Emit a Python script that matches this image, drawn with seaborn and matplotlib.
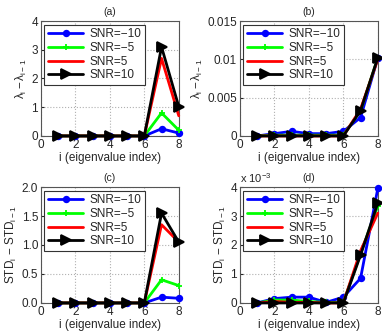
import numpy as np
import pandas as pd
import matplotlib
matplotlib.use("Agg")
import matplotlib.pyplot as plt
import seaborn as sns

idx = [1, 2, 3, 4, 5, 6, 7, 8]
labels = ["SNR=\u221210", "SNR=\u22125", "SNR=5", "SNR=10"]

# (a) eigenvalue differences
a_m10 = [0, 0, 0, 0, 0, 0, 0.25, 0.10]
a_m5 = [0, 0, 0, 0, 0, 0, 0.80, 0.20]
a_p5 = [0, 0, 0, 0, 0, 0, 2.70, 0.70]
a_p10 = [0, 0, 0, 0, 0, 0, 3.10, 1.02]

# (b)
b_m10 = [0, 0.0003, 0.0006, 0.0003, 0.0003, 0.0006, 0.0024, 0.0102]
b_m5 = [0, 0.0001, 0.0001, 0.0001, 0.0001, 0.0001, 0.0033, 0.0102]
b_p5 = [0, 0, 0, 0, 0, 0, 0.0035, 0.0100]
b_p10 = [0, 0, 0, 0, 0, 0, 0.0033, 0.0102]

# (c) STD differences
c_m10 = [0, 0, 0, 0, 0, 0, 0.10, 0.08]
c_m5 = [0, 0, 0, 0, 0, 0, 0.40, 0.30]
c_p5 = [0, 0, 0, 0, 0, 0, 1.35, 1.05]
c_p10 = [0, 0, 0, 0, 0, 0, 1.55, 1.05]

# (d)
d_m10 = [0, 0.00015, 0.0002, 0.0002, 0.00002, 0.0002, 0.00085, 0.00395]
d_m5 = [0, 0.0001, 0.0001, 0.00005, 0.00002, 0.00002, 0.0017, 0.00335]
d_p5 = [0, 0.00005, 0.00002, 0.00002, 0, 0, 0.0018, 0.0031]
d_p10 = [0, 0, 0, 0, 0, 0, 0.00165, 0.00345]

colors = ["#0000ff", "#00ff00", "#ff0000", "#000000"]
markers = ["o", "+", "None", ">"]
msizes = [4, 5, 0, 6.5]

sns.set_style("ticks")
plt.rcParams["font.family"] = ["Liberation Sans", "DejaVu Sans"]
plt.rcParams["font.size"] = 8
plt.rcParams["mathtext.fontset"] = "custom"
plt.rcParams["mathtext.rm"] = "Liberation Sans"
plt.rcParams["mathtext.it"] = "Liberation Sans"

fig = plt.figure(figsize=(3.82, 3.34), dpi=100)

panels = [
    ("(a)", [a_m10, a_m5, a_p5, a_p10], [0.107, 0.593, 0.361, 0.344], 4, [0, 1, 2, 3, 4], r"$\lambda_\mathrm{i} - \lambda_\mathrm{i-1}$"),
    ("(b)", [b_m10, b_m5, b_p5, b_p10], [0.628, 0.593, 0.361, 0.344], 0.015, [0, 0.005, 0.01, 0.015], r"$\lambda_\mathrm{i} - \lambda_\mathrm{i-1}$"),
    ("(c)", [c_m10, c_m5, c_p5, c_p10], [0.107, 0.093, 0.361, 0.347], 2, [0, 0.5, 1, 1.5, 2], r"STD$_\mathrm{i}$ $-$ STD$_\mathrm{i-1}$"),
    ("(d)", [d_m10, d_m5, d_p5, d_p10], [0.628, 0.093, 0.361, 0.347], 0.004, [0, 0.001, 0.002, 0.003, 0.004], r"STD$_\mathrm{i}$ $-$ STD$_\mathrm{i-1}$"),
]

for title, series, rect, ymax, yticks, ylabel in panels:
    ax = fig.add_axes(rect)
    for vals, lab, col, mk, ms in zip(series, labels, colors, markers, msizes):
        sns.lineplot(x=idx, y=vals, ax=ax, color=col, marker=mk, markersize=ms,
                     markeredgewidth=1.3, markeredgecolor=col, linewidth=2,
                     linestyle="-", label=lab, clip_on=False, zorder=3)
    ax.set_xlim(0, 8)
    ax.set_ylim(0, ymax)
    ax.set_xticks([0, 2, 4, 6, 8])
    ax.set_yticks(yticks)
    if title == "(b)":
        ax.set_yticklabels(["0", "0.005", "0.01", "0.015"])
    if title == "(d)":
        ax.set_yticklabels(["0", "1", "2", "3", "4"])
        ax.text(0, 1.02, r"x 10$^{-3}$", transform=ax.transAxes, fontsize=8, va="bottom")
    ax.grid(True, linestyle=":", color="#b0b0b0", linewidth=0.8)
    ax.tick_params(direction="in", length=2.5, pad=2, labelsize=8.5)
    for sp in ax.spines.values():
        sp.set_visible(True)
        sp.set_color("#555555")
        sp.set_linewidth(0.8)
    ax.set_title(title, fontsize=7.5, pad=4)
    ax.set_xlabel("i (eigenvalue index)", fontsize=8.5, labelpad=1)
    ax.set_ylabel(ylabel, fontsize=8.5, labelpad=2)
    leg = ax.legend(loc="upper left", handlelength=3.0, fontsize=8.5, fancybox=False,
                    framealpha=1, edgecolor="#333333", borderpad=0.3, labelspacing=0.15,
                    handletextpad=0.5, borderaxespad=0.3)
    leg.get_frame().set_linewidth(0.8)
    leg.set_zorder(5)

fig.savefig("out.png", dpi=100)
